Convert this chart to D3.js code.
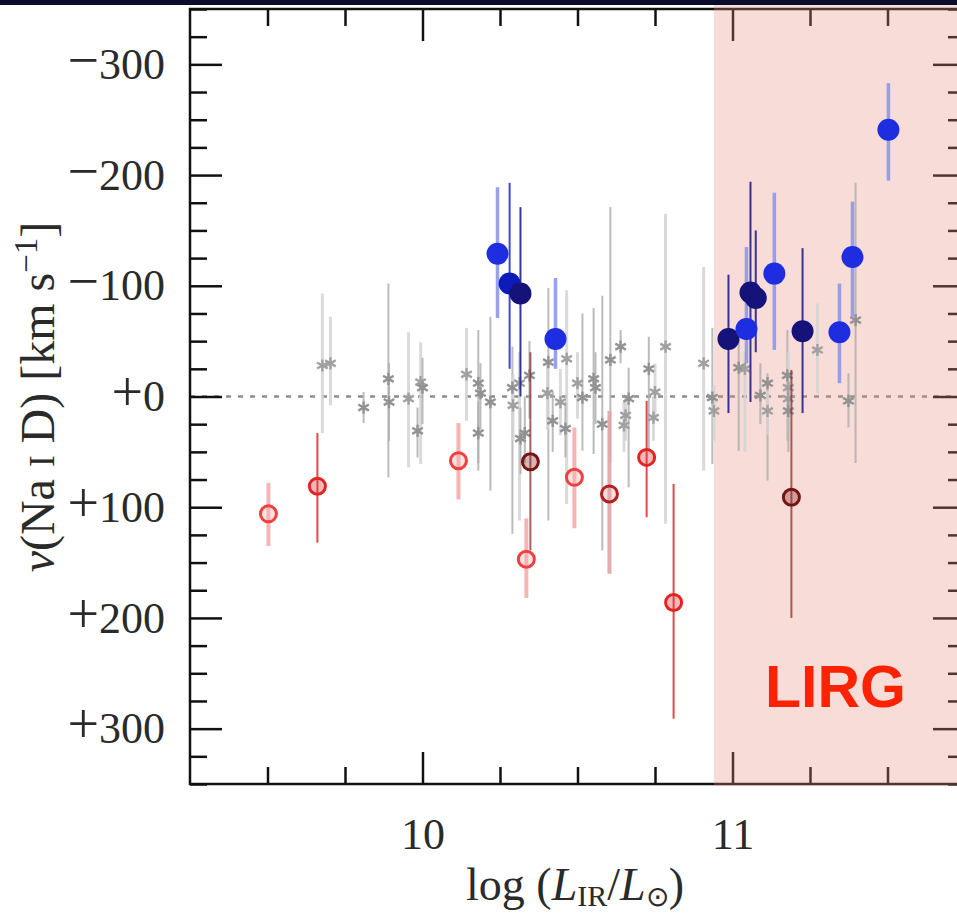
<!DOCTYPE html>
<html>
<head>
<meta charset="utf-8">
<script src="https://cdn.jsdelivr.net/npm/d3@7"></script>
<style>
  body { margin: 0; background: #fff; }
  svg { display: block; }
  .axis line { stroke: #111; stroke-width: 2.5; }
  .axis text { font-family: "Liberation Serif", "Times New Roman", serif; fill: #2a2a2a; }
  .label { font-family: "Liberation Serif", "Times New Roman", serif; fill: #2a2a2a; }
</style>
</head>
<body>
<div id="chart"></div>
<script>
// grey stars: galaxies with no significant Na I D shift
const greyLogL = [9.677, 9.703, 9.81, 9.89, 9.892, 9.955, 9.994, 10.0, 9.984, 10.142, 10.18, 10.187, 10.18, 10.219, 10.29, 10.292, 10.313, 10.316, 10.33, 10.345, 10.406, 10.403, 10.42, 10.445, 10.465, 10.461, 10.50, 10.516, 10.552, 10.558, 10.58, 10.606, 10.639, 10.665, 10.655, 10.65, 10.73, 10.75, 10.745, 10.784, 10.907, 10.935, 10.94, 11.02, 11.04, 11.09, 11.113, 11.113, 11.177, 11.18, 11.18, 11.18, 11.274, 11.374, 11.397];
const greyVel = [-28, -30, 10, -16, 5, 2, -13, -8, 31, -20, -12, -3, 33, 5, -8, 8, -12, 38, 33, -19, -31, -3, 22, 5, -34, 29, -12, 1, -16, -8, 25, -33, -45, 2, 17, 26, -25, -4, 19, -45, -30, 1, 13, -26, -25, -1, -12, 13, -19, -8, 2, 13, -42, 4, -69];
const greyLo = [-93, -72, -4, -102, -30, -58, -49, -35, 10, -62, -60, -30, 5, -72, -45, -20, -40, 10, 0, -50, -98, -30, -5, -25, -96, 5, -40, -75, -80, -40, -91, -171, -60, -26, 0, 5, -54, -30, 0, -165, -117, -62, -10, -60, -40, -30, -21, -5, -60, -40, -20, 0, -84, -21, -193];
const greyHi = [33, 8, 24, 73, 40, 64, 61, 25, 55, 22, 67, 30, 60, 85, 124, 40, 112, 70, 60, 20, 112, 30, 50, 35, 97, 55, 20, 49, 52, 25, 139, 60, -30, 82, 40, 50, 49, 20, 40, 115, 67, 61, 40, 49, 50, 25, 76, 35, 40, 30, 40, 50, -3, 28, 60];
const greyGroup = ["a","a","b","b","b","a","a","b","b","a","b","b","b","b","b","a","a","b","b","b","b","a","b","a","a","b","a","b","b","b","b","b","b","b","a","a","b","a","a","a","a","b","a","b","a","b","b","a","b","a","a","b","a","b","b"];

// blue: outflows
const blueLogL = [10.242, 10.281, 10.316, 10.429, 10.987, 11.045, 11.058, 11.075, 11.135, 11.226, 11.345, 11.387, 11.503];
const blueVel = [-129, -102, -93, -52, -52, -61, -94, -89, -111, -59, -58, -126, -241];
const blueLo = [-189, -193, -171, -107, -110, -135, -194, -150, -184, -134, -102, -176, -283];
const blueHi = [-71, -25, 0, -25, 15, -30, 5, -40, -42, 15, -12, -72, -195];
const blueGroup = ["a","b","c","a","c","a","c","c","a","c","a","a","a"];

// red: inflows
const redLogL = [9.503, 9.661, 10.116, 10.348, 10.335, 10.49, 10.603, 10.723, 10.81, 11.19];
const redVel = [106, 81, 58, 59, 147, 73, 88, 55, 186, 91];
const redLo = [78, 33, 24, -40, 110, 28, 13, 4, 79, -24];
const redHi = [135, 132, 93, 139, 182, 119, 160, 109, 291, 200];
const redGroup = ["a","b","a","c","a","a","d","b","b","c"];

const xMajor = [10, 11];
const xTickLabels = ["10", "11"];
const xMinor = [9.5, 9.75, 10.25, 10.5, 10.75, 11.25, 11.5];
const yMajor = [-300, -200, -100, 0, 100, 200, 300];
const yTickLabels = ["\u2212300", "\u2212200", "\u2212100", "+0", "+100", "+200", "+300"];
const yMinor = d3.range(-350, 351, 25).filter(v => v % 100 !== 0);
const lirgStart = 10.94;

const width = 957;
const height = 917;
const margin = {top: 9, left: 190, right: -8, bottom: 133};

const svg = d3.select("#chart")
    .append("svg")
    .attr("width", width)
    .attr("height", height);

const xScale = d3.scaleLinear()
    .domain([9.25, 11.75])
    .range([margin.left, width - margin.right]);

const yScale = d3.scaleLinear()
    .domain([-350, 350])
    .range([margin.top, height - margin.bottom]);

// dark strip at the very top of the screenshot
svg.append("rect")
    .attr("x", 0).attr("y", 0)
    .attr("width", width).attr("height", 5)
    .attr("fill", "#0b0b2e");

// zero line
svg.append("line")
    .attr("x1", xScale(9.25)).attr("x2", xScale(11.75))
    .attr("y1", yScale(0)).attr("y2", yScale(0))
    .attr("stroke", "#8c8c8c")
    .attr("stroke-width", 2.5)
    .attr("stroke-dasharray", "5,7");

// axes: ticks on all four sides, pointing inward
function addAxis(gen, transform, cls) {
    return svg.append("g")
        .attr("class", "axis " + cls)
        .attr("transform", transform)
        .call(gen)
        .call(g => g.select(".domain").remove());
}

const yAxis = addAxis(d3.axisLeft(yScale).tickValues(yMajor).tickSize(-32).tickPadding(25)
    .tickFormat((d, i) => yTickLabels[i]), `translate(${margin.left},0)`, "y-major");
addAxis(d3.axisLeft(yScale).tickValues(yMinor).tickSize(-17).tickFormat(""), `translate(${margin.left},0)`, "y-minor");
addAxis(d3.axisRight(yScale).tickValues(yMajor).tickSize(-32).tickFormat(""), `translate(${width - margin.right},0)`, "y-right");
addAxis(d3.axisRight(yScale).tickValues(yMinor).tickSize(-17).tickFormat(""), `translate(${width - margin.right},0)`, "y-right-minor");

const xAxis = addAxis(d3.axisBottom(xScale).tickValues(xMajor).tickSize(-32).tickPadding(34)
    .tickFormat((d, i) => xTickLabels[i]), `translate(0,${height - margin.bottom})`, "x-major");
addAxis(d3.axisBottom(xScale).tickValues(xMinor).tickSize(-17).tickFormat(""), `translate(0,${height - margin.bottom})`, "x-minor");
addAxis(d3.axisTop(xScale).tickValues(xMajor).tickSize(-32).tickFormat(""), `translate(0,${margin.top})`, "x-top");
addAxis(d3.axisTop(xScale).tickValues(xMinor).tickSize(-17).tickFormat(""), `translate(0,${margin.top})`, "x-top-minor");

yAxis.selectAll("text").attr("font-size", 44).each(function(d, i) {
    const s = yTickLabels[i];
    const t = d3.select(this).text(null);
    t.append("tspan").attr("font-size", 56).text(s[0]);
    t.append("tspan").text(s.slice(1));
});
xAxis.selectAll("text").attr("font-size", 44);

// frame
svg.append("rect")
    .attr("x", margin.left).attr("y", margin.top)
    .attr("width", xScale(11.75) - margin.left)
    .attr("height", yScale(350) - margin.top)
    .attr("fill", "none")
    .attr("stroke", "#111")
    .attr("stroke-width", 2.5);

// LIRG band
svg.append("rect")
    .attr("x", xScale(lirgStart)).attr("y", 5)
    .attr("width", width - xScale(lirgStart))
    .attr("height", yScale(350) + 2 - 5)
    .attr("fill", "rgb(228,138,125)")
    .attr("opacity", 0.3);

// grey points
const greyBarColor = {a: "#d4d4d4", b: "#b0b0b0"};
const greyBarWidth = {a: 3, b: 2};
const greyStarColor = {a: "#a0a0a0", b: "#929292"};

const greyData = greyLogL.map((x, i) => ({x: x, v: greyVel[i], lo: greyLo[i], hi: greyHi[i], g: greyGroup[i]}));

svg.selectAll("line.grey-err")
    .data(greyData)
    .enter()
    .append("line")
        .attr("class", "grey-err")
        .attr("x1", d => xScale(d.x)).attr("x2", d => xScale(d.x))
        .attr("y1", d => yScale(d.lo)).attr("y2", d => yScale(d.hi))
        .attr("stroke", d => greyBarColor[d.g])
        .attr("stroke-width", d => greyBarWidth[d.g])
        .attr("opacity", 0.85);

svg.selectAll("path.grey-pt")
    .data(greyData)
    .enter()
    .append("path")
        .attr("class", "grey-pt")
        .attr("transform", d => `translate(${xScale(d.x)},${yScale(d.v)})`)
        .attr("d", d3.symbol().type(d3.symbolAsterisk).size(105))
        .attr("fill", "none")
        .attr("stroke", d => greyStarColor[d.g])
        .attr("stroke-width", 2.4);

// red points
const redStroke = {a: "#f04040", b: "#e02424", c: "#761414", d: "#b42020"};
const redBar = {a: "#f6aeae", b: "#e43434", c: "#8a2c2c", d: "#e2a4a4"};
const redBarWidth = {a: 4, b: 2, c: 2, d: 4};

const redData = redLogL.map((x, i) => ({x: x, v: redVel[i], lo: redLo[i], hi: redHi[i], g: redGroup[i]}));

svg.selectAll("line.red-err")
    .data(redData)
    .enter()
    .append("line")
        .attr("class", "red-err")
        .attr("x1", d => xScale(d.x)).attr("x2", d => xScale(d.x))
        .attr("y1", d => yScale(d.lo)).attr("y2", d => yScale(d.hi))
        .attr("stroke", d => redBar[d.g])
        .attr("stroke-width", d => redBarWidth[d.g])
        .attr("opacity", d => d.g === "c" ? 0.75 : 0.9);

svg.selectAll("circle.red-pt")
    .data(redData)
    .enter()
    .append("circle")
        .attr("class", "red-pt")
        .attr("cx", d => xScale(d.x))
        .attr("cy", d => yScale(d.v))
        .attr("r", 8)
        .attr("fill", d => redBar[d.g])
        .attr("fill-opacity", 0.35)
        .attr("stroke", d => redStroke[d.g])
        .attr("stroke-width", 3);

// blue points
const blueFill = {a: "#1f2de0", b: "#0b1cb8", c: "#15137a"};
const blueBar = {a: "#8e97ec", b: "#2a36c8", c: "#222092"};
const blueBarWidth = {a: 3.5, b: 2, c: 2};

const blueData = blueLogL.map((x, i) => ({x: x, v: blueVel[i], lo: blueLo[i], hi: blueHi[i], g: blueGroup[i]}));

svg.selectAll("line.blue-err")
    .data(blueData)
    .enter()
    .append("line")
        .attr("class", "blue-err")
        .attr("x1", d => xScale(d.x)).attr("x2", d => xScale(d.x))
        .attr("y1", d => yScale(d.lo)).attr("y2", d => yScale(d.hi))
        .attr("stroke", d => blueBar[d.g])
        .attr("stroke-width", d => blueBarWidth[d.g])
        .attr("opacity", 0.9);

svg.selectAll("circle.blue-pt")
    .data(blueData)
    .enter()
    .append("circle")
        .attr("class", "blue-pt")
        .attr("cx", d => xScale(d.x))
        .attr("cy", d => yScale(d.v))
        .attr("r", 11)
        .attr("fill", d => blueFill[d.g]);

// LIRG label
svg.append("text")
    .attr("x", 765)
    .attr("y", 707)
    .attr("font-family", "'Liberation Sans', Arial, sans-serif")
    .attr("font-weight", "bold")
    .attr("font-size", 59)
    .attr("fill", "#ff2200")
    .text("LIRG");

// axis labels
const xLabel = svg.append("text")
    .attr("class", "label")
    .attr("x", 575)
    .attr("y", 900)
    .attr("text-anchor", "middle")
    .attr("font-size", 46);
xLabel.append("tspan").text("log (");
xLabel.append("tspan").attr("font-style", "italic").text("L");
xLabel.append("tspan").attr("font-size", 30).attr("dy", 6).text("IR");
xLabel.append("tspan").attr("dy", -6).text("/");
xLabel.append("tspan").attr("font-style", "italic").text("L");
xLabel.append("tspan").attr("font-size", 28).attr("dy", 6).text("\u2299");
xLabel.append("tspan").attr("dy", -6).text(")");

const yLabel = svg.append("text")
    .attr("class", "label")
    .attr("transform", "translate(54,397) rotate(-90)")
    .attr("text-anchor", "middle")
    .attr("font-size", 48);
yLabel.append("tspan").attr("font-style", "italic").text("v");
yLabel.append("tspan").text("(Na ");
yLabel.append("tspan").attr("font-size", 35).text("I");
yLabel.append("tspan").text(" D) [km s");
yLabel.append("tspan").attr("font-size", 33).attr("dy", -17).text("\u22121");
yLabel.append("tspan").attr("dy", 17).text("]");
</script>
</body>
</html>
